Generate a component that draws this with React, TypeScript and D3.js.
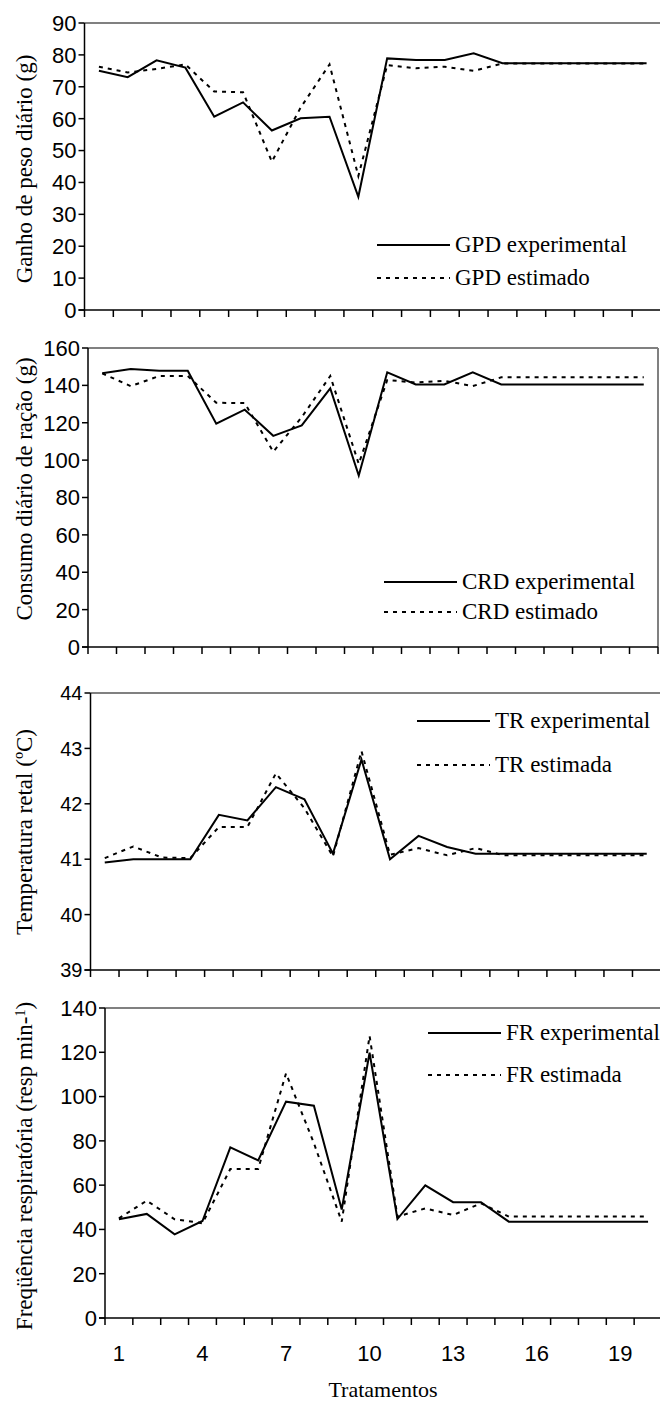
import React from "react";
import * as d3 from "d3";

const categories = [1, 2, 3, 4, 5, 6, 7, 8, 9, 10, 11, 12, 13, 14, 15, 16, 17, 18, 19, 20];
const xTickLabels = [1, 4, 7, 10, 13, 16, 19];

const gpdExp = [75, 73, 78.3, 76, 60.6, 65.1, 56.3, 60.1, 60.6, 35.5, 78.9, 78.4, 78.4, 80.5, 77.4, 77.4, 77.4, 77.4, 77.4, 77.4];
const gpdEst = [76.3, 74.5, 75.6, 77, 68.5, 68.3, 46.5, 63.5, 77, 42, 76.8, 75.8, 76.3, 75, 77.3, 77.3, 77.3, 77.3, 77.3, 77.3];
const crdExp = [146.5, 148.7, 147.8, 147.8, 119.5, 127, 113, 118.6, 138.4, 91.7, 147, 140.5, 140.5, 147, 140.5, 140.5, 140.5, 140.5, 140.5, 140.5];
const crdEst = [146.4, 139.6, 145, 145, 130.7, 130.5, 104.5, 123, 145, 98, 142.9, 141.5, 142.5, 139.6, 144.3, 144.3, 144.3, 144.3, 144.3, 144.3];
const trExp = [40.94, 41.0, 41.0, 41.0, 41.8, 41.7, 42.3, 42.08, 41.1, 42.8, 41.0, 41.42, 41.22, 41.1, 41.1, 41.1, 41.1, 41.1, 41.1, 41.1];
const trEst = [41.02, 41.23, 41.03, 41.02, 41.58, 41.58, 42.55, 41.92, 41.05, 42.95, 41.08, 41.2, 41.07, 41.2, 41.07, 41.07, 41.07, 41.07, 41.07, 41.07];
const frExp = [44.6, 47, 37.8, 43.8, 77.1, 71.2, 97.7, 95.9, 49, 119.8, 44.7, 59.9, 52.3, 52.3, 43.5, 43.5, 43.5, 43.5, 43.5, 43.5];
const frEst = [45, 53, 44.6, 42.8, 67.3, 67.3, 110.5, 79, 43.5, 127.4, 45.8, 49.5, 46.5, 51.8, 45.8, 45.8, 45.8, 45.8, 45.8, 45.8];

const gpdTicks = [0, 10, 20, 30, 40, 50, 60, 70, 80, 90];
const crdTicks = [0, 20, 40, 60, 80, 100, 120, 140, 160];
const trTicks = [39, 40, 41, 42, 43, 44];
const frTicks = [0, 20, 40, 60, 80, 100, 120, 140];

const SANS = "'Liberation Sans', Arial, sans-serif";
const SERIF = "'Liberation Serif', 'Times New Roman', serif";

type PanelCfg = {
  left: number; right: number; top: number; bottom: number;
  ticks: number[]; exp: number[]; est: number[];
  title: React.ReactNode; titleY: number;
  legExp: string; legEst: string;
  legX: number; legY1: number; legY2: number;
  showX: boolean; fs: number;
};

const panels: PanelCfg[] = [
  { left: 84.5, right: 661, top: 23, bottom: 310, ticks: gpdTicks, exp: gpdExp, est: gpdEst,
    title: "Ganho de peso diário (g)", titleY: 169, legExp: "GPD experimental", legEst: "GPD estimado",
    legX: 377, legY1: 245, legY2: 278, showX: false, fs: 22 },
  { left: 88, right: 658, top: 348, bottom: 647, ticks: crdTicks, exp: crdExp, est: crdEst,
    title: "Consumo diário de ração (g)", titleY: 489, legExp: "CRD experimental", legEst: "CRD estimado",
    legX: 384, legY1: 582, legY2: 612, showX: false, fs: 22 },
  { left: 90.5, right: 661, top: 693, bottom: 970, ticks: trTicks, exp: trExp, est: trEst,
    title: "Temperatura retal (ºC)", titleY: 832, legExp: "TR experimental", legEst: "TR estimada",
    legX: 417, legY1: 721, legY2: 765, showX: false, fs: 20 },
  { left: 105, right: 662, top: 1008, bottom: 1318, ticks: frTicks, exp: frExp, est: frEst,
    title: (<>Freqüência respiratória (resp min-<tspan dy={-7} fontSize={14}>1</tspan><tspan dy={7}>)</tspan></>),
    titleY: 1166, legExp: "FR experimental", legEst: "FR estimada",
    legX: 428, legY1: 1033, legY2: 1075, showX: true, fs: 22 },
];

function Panel({ p }: { p: PanelCfg }) {
  const x = d3.scaleBand<number>().domain(categories).range([p.left, p.right]).padding(0);
  const y = d3.scaleLinear().domain([p.ticks[0], p.ticks[p.ticks.length - 1]]).range([p.bottom, p.top]);
  const cx = (c: number) => (x(c) as number) + x.bandwidth() / 2;
  const line = d3.line<number>().x((_, i) => cx(categories[i])).y((v) => y(v));
  const bounds = [...categories.map((c) => x(c) as number), p.right];
  return (
    <g>
      <line x1={p.left} x2={p.right} y1={p.top} y2={p.top} stroke="#808080" strokeWidth={2} />
      <line x1={p.right} x2={p.right} y1={p.top} y2={p.bottom} stroke="#808080" strokeWidth={2} />
      <line x1={p.left} x2={p.left} y1={p.top} y2={p.bottom} stroke="#000" strokeWidth={1.5} />
      <line x1={p.left - 6} x2={p.right} y1={p.bottom} y2={p.bottom} stroke="#000" strokeWidth={1.5} />
      {p.ticks.map((t) => (
        <g key={t}>
          <line x1={p.left - 6} x2={p.left} y1={y(t)} y2={y(t)} stroke="#000" strokeWidth={1.5} />
          <text x={p.left - 8} y={y(t)} dy="0.36em" textAnchor="end" fontFamily={SANS} fontSize={p.fs} fill="#000">{t}</text>
        </g>
      ))}
      {bounds.map((b, i) => (
        <line key={i} x1={b} x2={b} y1={p.bottom} y2={p.bottom + 7} stroke="#000" strokeWidth={1.5} />
      ))}
      {p.showX && xTickLabels.map((c) => (
        <text key={c} x={cx(c)} y={1361} textAnchor="middle" fontFamily={SANS} fontSize={22} fill="#000">{c}</text>
      ))}
      <path d={line(p.est) || ""} fill="none" stroke="#000" strokeWidth={2} strokeDasharray="4,5" />
      <path d={line(p.exp) || ""} fill="none" stroke="#000" strokeWidth={2} />
      <line x1={p.legX} x2={p.legX + 73} y1={p.legY1} y2={p.legY1} stroke="#000" strokeWidth={2} />
      <text x={p.legX + 78} y={p.legY1 + 7} fontFamily={SERIF} fontSize={23} fill="#000">{p.legExp}</text>
      <line x1={p.legX} x2={p.legX + 73} y1={p.legY2} y2={p.legY2} stroke="#000" strokeWidth={2} strokeDasharray="4,5" />
      <text x={p.legX + 78} y={p.legY2 + 7} fontFamily={SERIF} fontSize={23} fill="#000">{p.legEst}</text>
      <text transform={`translate(32,${p.titleY}) rotate(-90)`} textAnchor="middle" fontFamily={SERIF} fontSize={23} fill="#000">{p.title}</text>
    </g>
  );
}

export default function App() {
  return (
    <svg width={660} height={1405} style={{ position: "absolute", left: 0, top: 0, background: "#fff" }}>
      <rect x={0} y={0} width={660} height={1405} fill="#fff" />
      {panels.map((p, i) => <Panel key={i} p={p} />)}
      <text x={383} y={1397} textAnchor="middle" fontFamily={SERIF} fontSize={22} fill="#000">Tratamentos</text>
    </svg>
  );
}
